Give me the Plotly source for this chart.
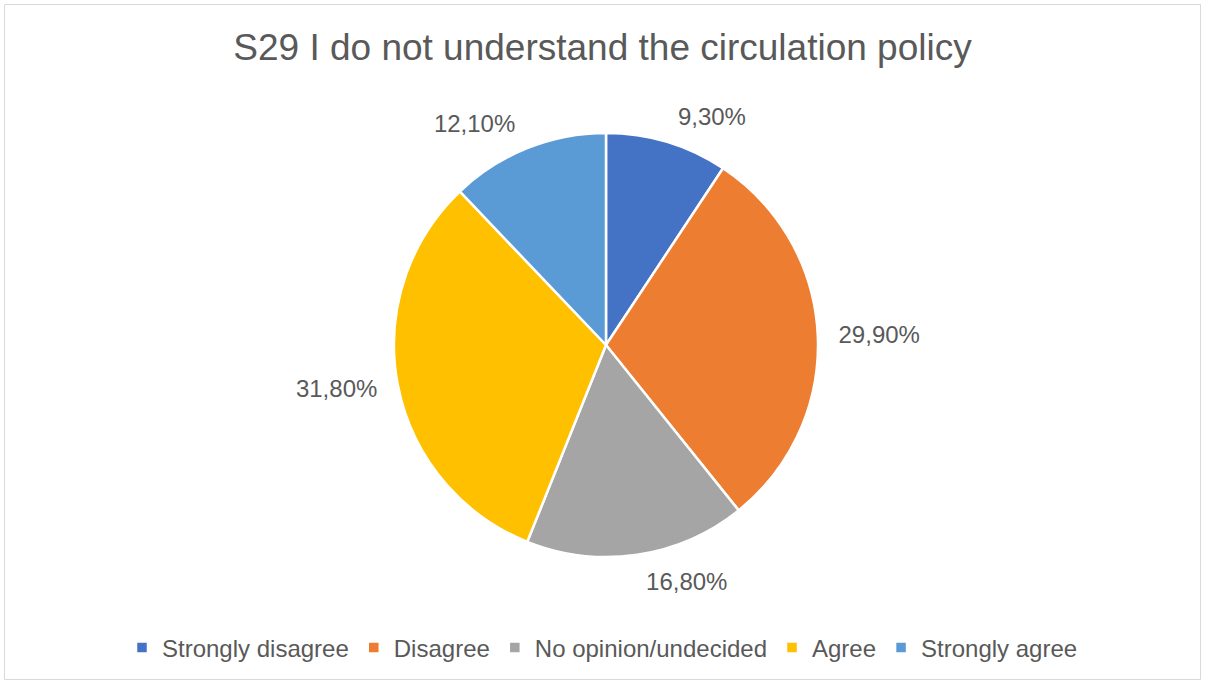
import plotly.graph_objects as go

categories = ["Strongly disagree", "Disagree", "No opinion/undecided", "Agree", "Strongly agree"]
values = [9.3, 29.9, 16.8, 31.8, 12.1]
labels_text = ["9,30%", "29,90%", "16,80%", "31,80%", "12,10%"]
colors = ["#4472C4", "#ED7D31", "#A5A5A5", "#FFC000", "#5B9BD5"]

W, H = 1205, 684
cx, cy, r = 606, 345, 212
r_lab = 226


def dom(rad):
    return dict(x=[(cx - rad) / W, (cx + rad) / W], y=[(H - cy - rad) / H, (H - cy + rad) / H])


fig = go.Figure()
# invisible, slightly larger pie used only to place the outside labels a bit further out
fig.add_trace(go.Pie(
    labels=categories,
    values=values,
    text=labels_text,
    textinfo="text",
    textposition="outside",
    textfont=dict(family="Liberation Sans, Arial", size=24, color="#595959"),
    marker=dict(colors=["rgba(0,0,0,0)"] * 5, line=dict(width=0)),
    sort=False,
    direction="clockwise",
    rotation=0,
    domain=dom(r_lab),
    showlegend=False,
    hoverinfo="skip",
))
fig.add_trace(go.Pie(
    labels=categories,
    values=values,
    textinfo="none",
    marker=dict(colors=colors, line=dict(color="white", width=2.5)),
    sort=False,
    direction="clockwise",
    rotation=0,
    domain=dom(r),
    showlegend=True,
))

fig.update_layout(
    width=W, height=H,
    margin=dict(l=0, r=0, t=0, b=0),
    paper_bgcolor="white",
    plot_bgcolor="white",
    title=dict(
        text="S29 I do not understand the circulation policy",
        x=0.5, xanchor="center", y=1 - 47 / H, yanchor="middle",
        font=dict(family="Liberation Sans, Arial", size=37, color="#595959"),
    ),
    legend=dict(
        orientation="h", x=0.5, xanchor="center", y=1 - 648 / H, yanchor="middle",
        font=dict(family="Liberation Sans, Arial", size=24, color="#595959"),
        itemwidth=30,
    ),
    shapes=[dict(
        type="rect", xref="paper", yref="paper",
        x0=4.5 / W, x1=(W - 4.5) / W, y0=4.5 / H, y1=1 - 4.5 / H,
        line=dict(color="#D9D9D9", width=1), fillcolor="rgba(0,0,0,0)", layer="below",
    )],
)

fig.write_html("out.html")
